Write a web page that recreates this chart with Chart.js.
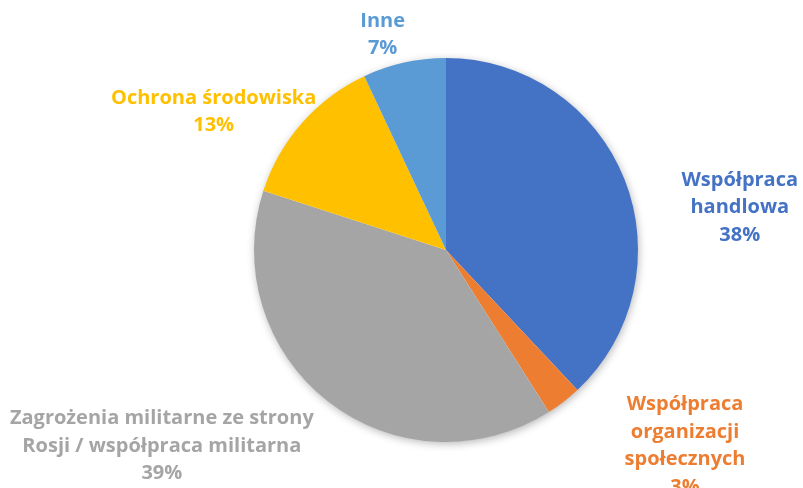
<!DOCTYPE html>
<html>
<head>
<meta charset="utf-8">
<script src="https://cdn.jsdelivr.net/npm/chart.js@4"></script>
<style>
  html, body { margin: 0; padding: 0; background: #fff; }
  #wrap { width: 803px; height: 488px; }
</style>
</head>
<body>
<div id="wrap"><canvas id="pieChart" width="803" height="488"></canvas></div>
<script>
// data
const categories = [
  "Współpraca handlowa",
  "Współpraca organizacji społecznych",
  "Zagrożenia militarne ze strony Rosji / współpraca militarna",
  "Ochrona środowiska",
  "Inne"
];
const shares = [38, 3, 39, 13, 7];
const colors = ["#4472C4", "#ED7D31", "#A5A5A5", "#FFC000", "#5B9BD5"];

// how each label is wrapped
const labelLines = [
  ["Współpraca", "handlowa"],
  ["Współpraca", "organizacji", "społecznych"],
  ["Zagrożenia militarne ze strony", "Rosji / współpraca militarna"],
  ["Ochrona środowiska"],
  ["Inne"]
];
// label block centre, relative to the pie centre, in radii
const labelPos = [
  [1.53, -0.22],
  [1.245, 1.02],
  [-1.48, 1.02],
  [-1.21, -0.72],
  [-0.33, -1.12]
];

// soft shadow behind the whole pie
const pieShadow = {
  id: "pieShadow",
  beforeDatasetsDraw(chart) {
    const arc = chart.getDatasetMeta(0).data[0];
    if (!arc) return;
    const c = chart.ctx;
    c.save();
    c.shadowColor = "rgba(0,0,0,0.3)";
    c.shadowBlur = 9;
    c.shadowOffsetX = 1;
    c.shadowOffsetY = 2;
    c.fillStyle = "#fff";
    c.beginPath();
    c.arc(arc.x, arc.y, arc.outerRadius - 0.5, 0, Math.PI * 2);
    c.fill();
    c.restore();
  }
};

const outerLabels = {
  id: "outerLabels",
  afterDatasetsDraw(chart) {
    const meta = chart.getDatasetMeta(0);
    const c = chart.ctx;
    const lh = 27.5;
    c.save();
    c.font = "bold 20px 'Open Sans'";
    c.textAlign = "center";
    c.textBaseline = "middle";
    meta.data.forEach((arc, i) => {
      const r = arc.outerRadius;
      const cx = arc.x + labelPos[i][0] * r;
      const cy = arc.y + labelPos[i][1] * r;
      const lines = labelLines[i].concat([shares[i] + "%"]);
      const top = cy - (lines.length - 1) * lh / 2;
      c.fillStyle = colors[i];
      lines.forEach((t, k) => c.fillText(t, cx, top + k * lh));
    });
    c.restore();
  }
};

const ctx = document.getElementById("pieChart").getContext("2d");
new Chart(ctx, {
  type: "pie",
  data: {
    labels: categories,
    datasets: [
      {
        data: shares,
        backgroundColor: colors,
        borderWidth: 0,
        hoverOffset: 0
      }
    ]
  },
  options: {
    responsive: false,
    animation: false,
    layout: { padding: { top: 58, bottom: 46, left: 254, right: 165 } },
    plugins: {
      legend: { display: false },
      tooltip: { enabled: false }
    }
  },
  plugins: [pieShadow, outerLabels]
});
</script>
</body>
</html>
